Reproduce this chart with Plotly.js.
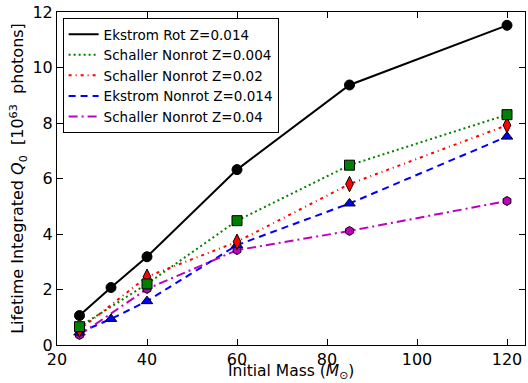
<!DOCTYPE html>
<html><head><meta charset="utf-8">
<script src="https://cdn.plot.ly/plotly-3.0.1.min.js"></script>
<style>body{margin:0;background:#fff}</style></head>
<body><div id="chart" style="width:528px;height:383px"></div>
<script>
const ekRotMass = [25, 32, 40, 60, 85, 120];
const ekRotQ = [1.06, 2.07, 3.18, 6.32, 9.37, 11.52];
const sch004Mass = [25, 40, 60, 85, 120];
const sch004Q = [0.66, 2.2, 4.48, 6.48, 8.3];
const sch02Mass = [25, 40, 60, 85, 120];
const sch02Q = [0.55, 2.46, 3.72, 5.8, 7.92];
const ekNonMass = [25, 32, 40, 60, 85, 120];
const ekNonQ = [0.45, 0.94, 1.58, 3.6, 5.1, 7.51];
const sch04Mass = [25, 40, 60, 85, 120];
const sch04Q = [0.36, 2.02, 3.42, 4.11, 5.19];

const seriesNames = ['Ekstrom Rot Z=0.014','Schaller Nonrot Z=0.004','Schaller Nonrot Z=0.02','Ekstrom Nonrot Z=0.014','Schaller Nonrot Z=0.04'];
const xTitle = 'Initial Mass (<i>M</i><sub>⊙</sub>)';
const yTitle = 'Lifetime Integrated <i>Q</i><sub>0</sub>  [10<sup>63</sup>  photons]';
const xs = [ekRotMass, sch004Mass, sch02Mass, ekNonMass, sch04Mass];
const ys = [ekRotQ, sch004Q, sch02Q, ekNonQ, sch04Q];
const colors = ['#000000','#008000','#ff0000','#0000ff','#bf00bf'];
const dashes = ['solid','2px,3px','3px,4px,1px,4px','7px,5px','9px,4px,2px,4px'];
const symbols = ['circle','square','diamond-tall','triangle-up','hexagon'];
const msize = [10,10,11,10,9];

const traces = [];
for (let i = 0; i < 5; i++) {
  traces.push({x: xs[i], y: ys[i], mode: 'lines', name: seriesNames[i],
    line: {color: colors[i], width: 2, dash: dashes[i]}, hoverinfo: 'skip'});
}
for (let i = 4; i >= 0; i--) {
  traces.push({x: xs[i], y: ys[i], mode: 'markers', showlegend: false,
    marker: {color: colors[i], symbol: symbols[i], size: msize[i], line: {color: '#000', width: 1}}});
}

const axisCommon = {showline: true, linecolor: '#000', linewidth: 1, mirror: 'ticks',
  ticks: 'inside', ticklen: 6, tickcolor: '#000', showgrid: false, zeroline: false,
  tickfont: {family: 'DejaVu Sans', size: 16, color: '#000'}};

const layout = {
  width: 528, height: 383,
  margin: {l: 57, r: 3, t: 12, b: 38},
  paper_bgcolor: '#fff', plot_bgcolor: '#fff',
  font: {family: 'DejaVu Sans', color: '#000'},
  xaxis: Object.assign({}, axisCommon, {range: [20, 124], tickvals: [20,40,60,80,100,120]}),
  yaxis: Object.assign({}, axisCommon, {range: [0, 12], tickvals: [0,2,4,6,8,10,12],
    title: {text: yTitle, font: {family: 'DejaVu Sans', size: 16}, standoff: 4}}),
  annotations: [{text: xTitle, xref: 'paper', yref: 'paper', x: 0.5, y: 0,
    xanchor: 'center', yanchor: 'top', yshift: -15, showarrow: false,
    font: {family: 'DejaVu Sans', size: 15.5, color: '#000'}}],
  legend: {x: 0.012, y: 0.982, xanchor: 'left', yanchor: 'top', bgcolor: '#fff',
    bordercolor: '#000', borderwidth: 1, font: {family: 'DejaVu Sans', size: 13.5},
    tracegroupgap: 0, itemwidth: 30}
};
Plotly.newPlot('chart', traces, layout, {displayModeBar: false, staticPlot: true});
</script></body></html>
